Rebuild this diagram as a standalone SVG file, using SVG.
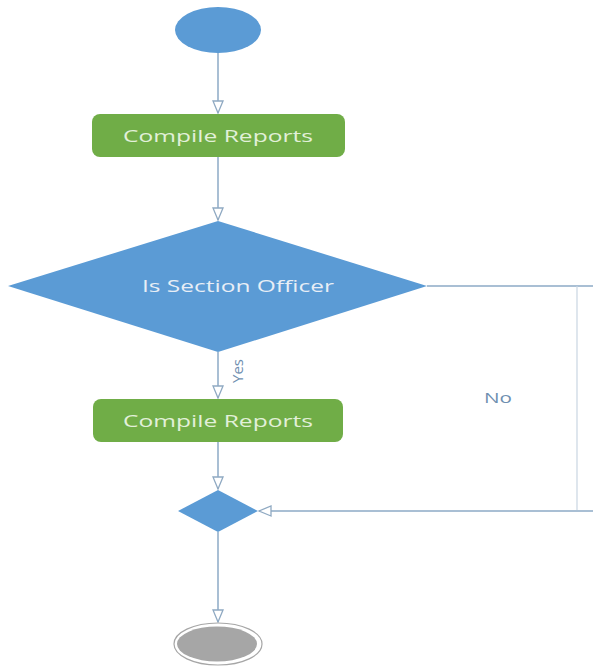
<svg xmlns="http://www.w3.org/2000/svg" width="593" height="666" viewBox="0 0 593 666">
  <defs>
    <style>
      .edge { fill: none; stroke: #a9bfd4; stroke-width: 2; }
      .faint { fill: none; stroke: #c9d6e2; stroke-width: 1.2; }
      .head { fill: #ffffff; stroke: #8fa9c2; stroke-width: 1.3; }
      .action { fill: #70ad47; }
      .decision { fill: #5b9bd5; }
      .label { font-family: "Open Sans", "Liberation Sans", sans-serif; fill: #e2f0d9; font-size: 17px; }
      .dlabel { font-family: "Open Sans", "Liberation Sans", sans-serif; fill: #e8eef6; font-size: 16px; }
      .guard { font-family: "Open Sans", "Liberation Sans", sans-serif; fill: #6f8fb0; font-size: 14px; }
    </style>
    <marker id="arrow" viewBox="0 0 14 12" refX="13" refY="6" markerWidth="14" markerHeight="12" markerUnits="userSpaceOnUse" orient="auto">
      <path class="head" d="M1,1 L13,6 L1,11 Z"/>
    </marker>
  </defs>

  <!-- connectors -->
  <g id="connectors">
    <path class="edge" d="M218,52 V113" marker-end="url(#arrow)"/>
    <path class="edge" d="M218,157 V220" marker-end="url(#arrow)"/>
    <path class="edge" d="M218,352 V398" marker-end="url(#arrow)"/>
    <path class="edge" d="M218,442 V489" marker-end="url(#arrow)"/>
    <path class="edge" d="M218,532 V622" marker-end="url(#arrow)"/>
    <path class="edge" d="M427,286 H593"/>
    <path class="faint" d="M577,286 V511"/>
    <path class="edge" d="M593,511 H259" marker-end="url(#arrow)"/>
    <text class="guard" transform="translate(243,371) rotate(-90)" text-anchor="middle" textLength="24" lengthAdjust="spacingAndGlyphs">Yes</text>
    <text class="guard" x="498" y="403" text-anchor="middle" textLength="28" lengthAdjust="spacingAndGlyphs">No</text>
  </g>

  <!-- initial node -->
  <g id="start">
    <ellipse cx="218" cy="30" rx="43" ry="23" fill="#5b9bd5"/>
  </g>

  <!-- first action -->
  <g id="compile1">
    <rect class="action" x="92" y="114" width="253" height="43" rx="8"/>
    <text class="label" x="218" y="142" text-anchor="middle" textLength="190" lengthAdjust="spacingAndGlyphs">Compile Reports</text>
  </g>

  <!-- decision -->
  <g id="isSectionOfficer">
    <polygon class="decision" points="218,221 427,286 218,352 8,286"/>
    <text class="dlabel" x="238" y="292" text-anchor="middle" textLength="192" lengthAdjust="spacingAndGlyphs">Is Section Officer</text>
  </g>

  <!-- second action -->
  <g id="compile2">
    <rect class="action" x="93" y="399" width="250" height="43" rx="8"/>
    <text class="label" x="218" y="427" text-anchor="middle" textLength="190" lengthAdjust="spacingAndGlyphs">Compile Reports</text>
  </g>

  <!-- merge -->
  <g id="merge">
    <polygon class="decision" points="218,490 258,511 218,532 178,511"/>
  </g>

  <!-- final node -->
  <g id="end">
    <ellipse cx="218" cy="644" rx="44" ry="21" fill="#ffffff" stroke="#a6a6a6" stroke-width="1.2"/>
    <ellipse cx="217" cy="644" rx="40" ry="17.5" fill="#a6a6a6"/>
  </g>
</svg>
